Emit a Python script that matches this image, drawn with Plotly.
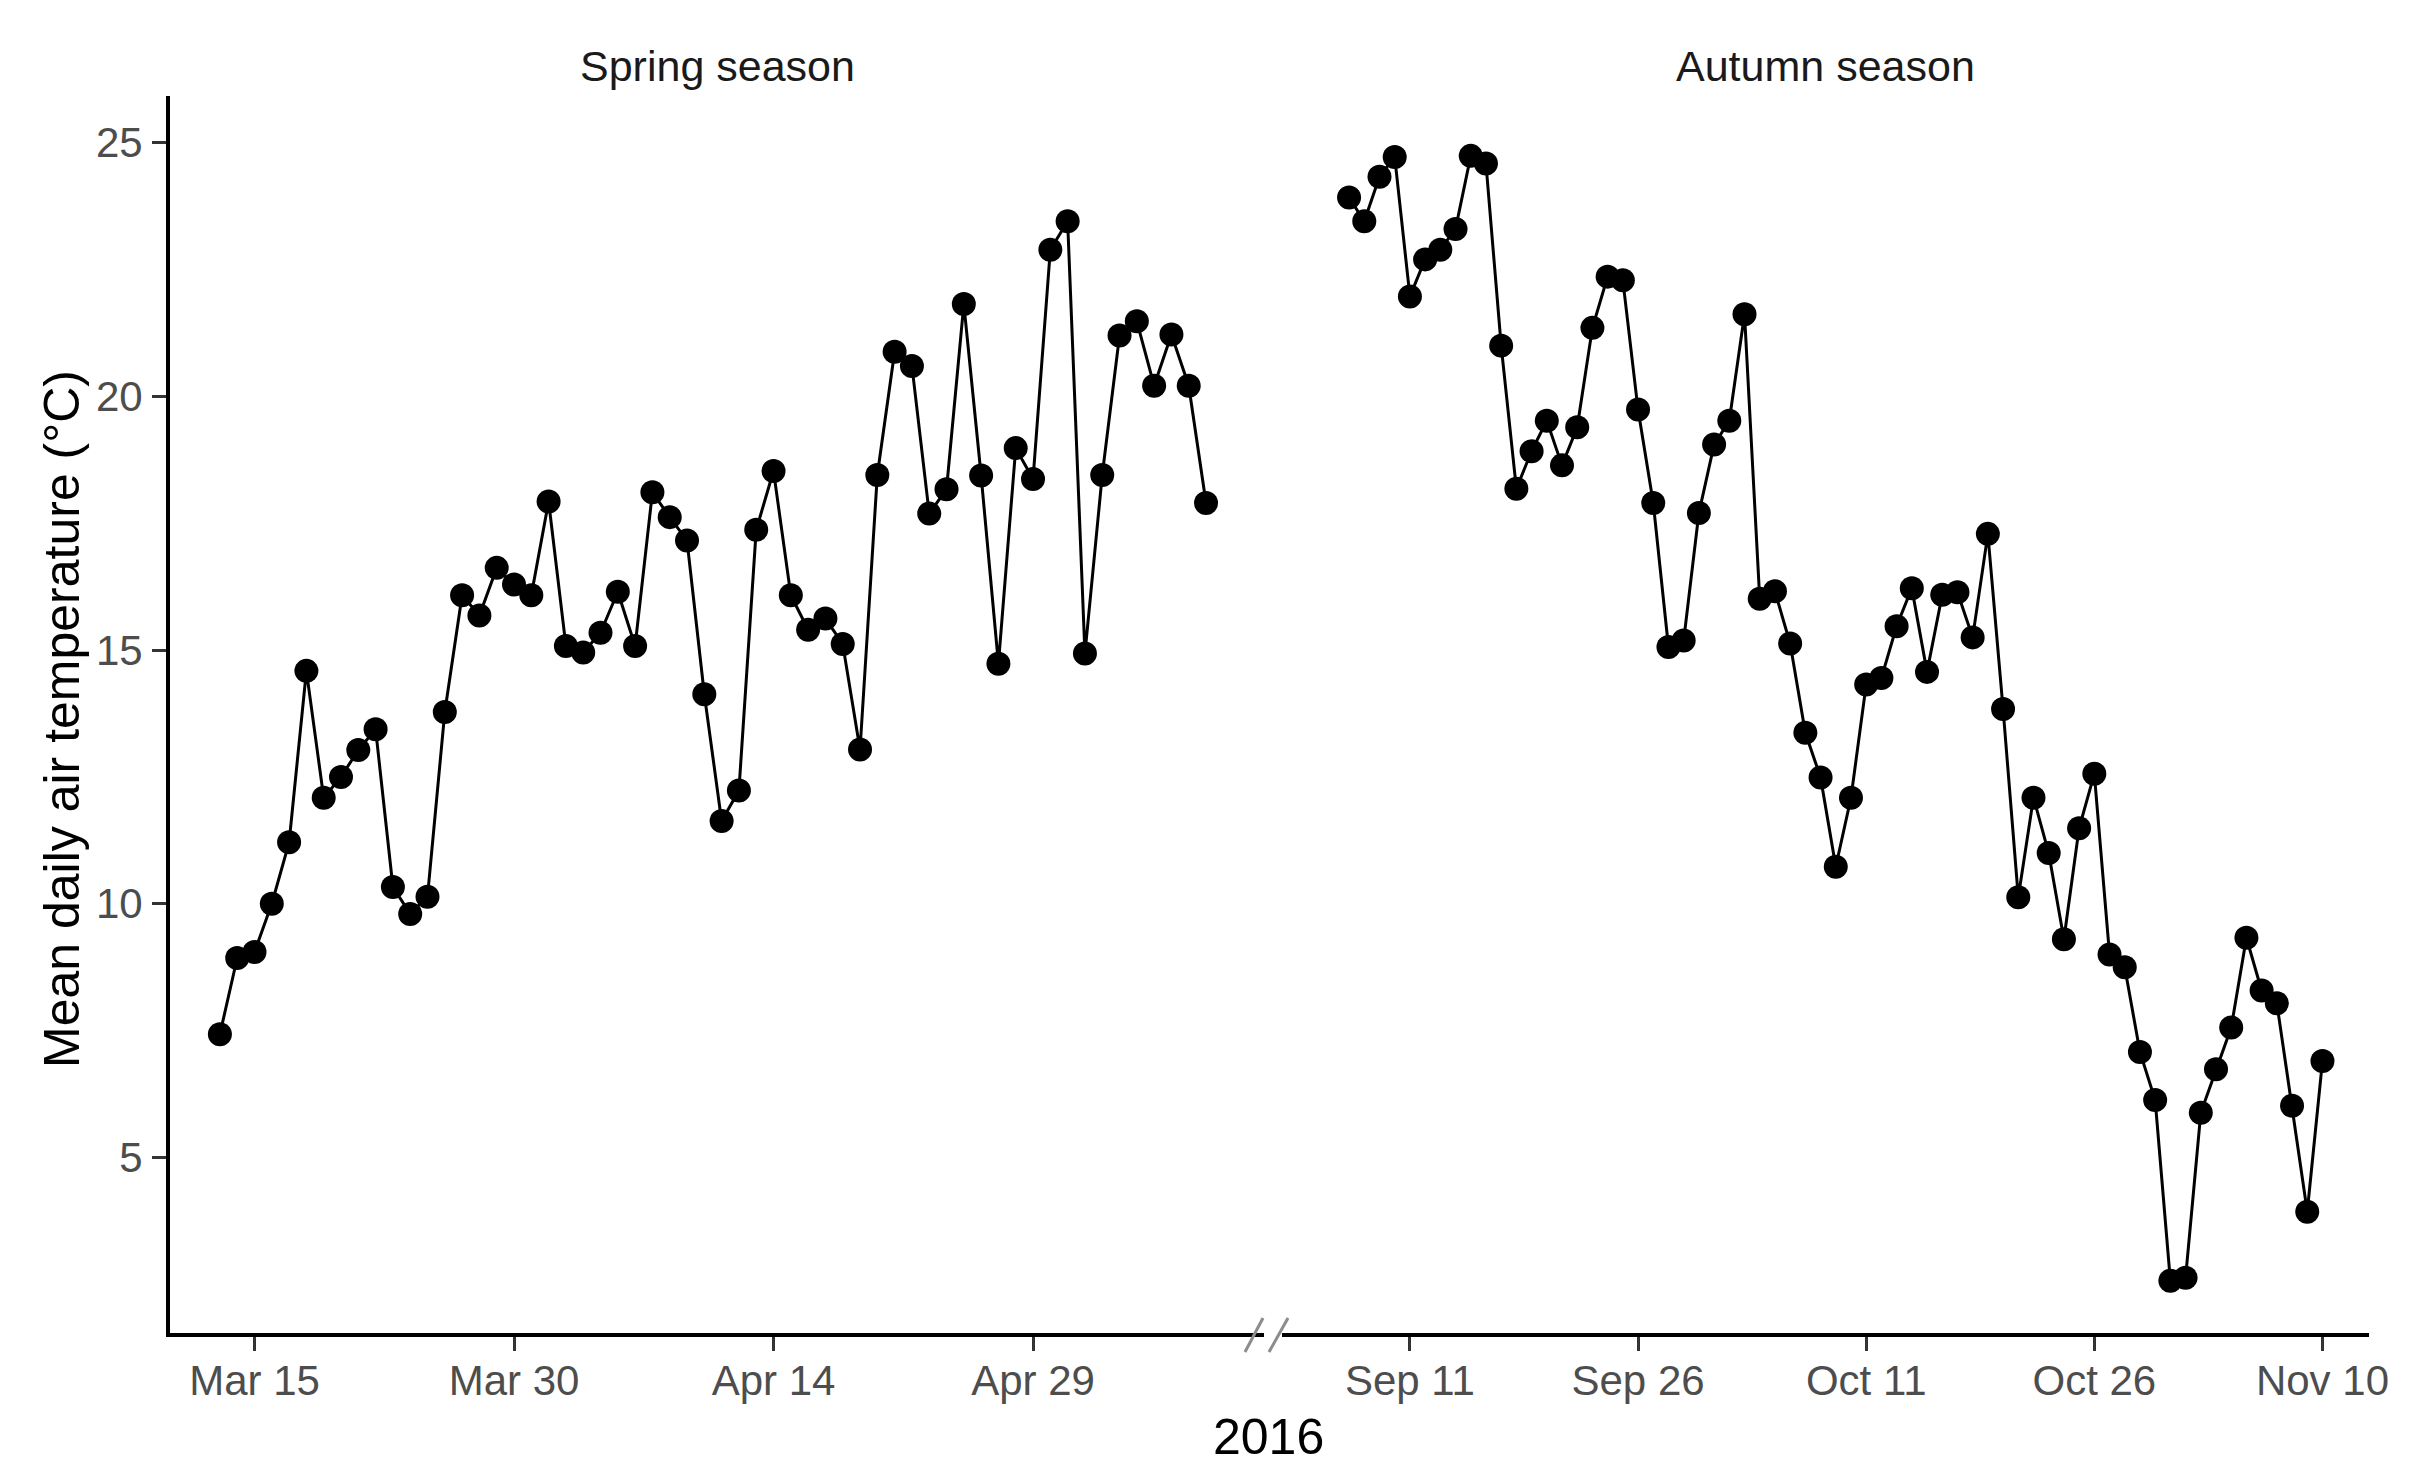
import pandas as pd
import plotly.graph_objects as go

# ---------------- data ----------------
spring_start, spring_end = "2016-03-13", "2016-05-09"
autumn_start, autumn_end = "2016-09-07", "2016-11-10"

spring_temp = [7.43, 8.93, 9.05, 10.0, 11.21, 14.59, 12.09, 12.50, 13.03, 13.44,
               10.33, 9.80, 10.14, 13.78, 16.08, 15.68, 16.62, 16.29, 16.08, 17.93,
               15.08, 14.95, 15.34, 16.15, 15.08, 18.11, 17.62, 17.16, 14.13, 11.63,
               12.23, 17.37, 18.53, 16.08, 15.40, 15.62, 15.12, 13.04, 18.45, 20.88,
               20.60, 17.69, 18.17, 21.82, 18.44, 14.73, 18.98, 18.37, 22.89, 23.45,
               14.93, 18.45, 21.20, 21.48, 20.21, 21.22, 20.21, 17.90]

autumn_temp = [23.92, 23.45, 24.33, 24.72, 21.97, 22.70, 22.89, 23.30, 24.74, 24.59,
               21.00, 18.18, 18.92, 19.52, 18.64, 19.39, 21.35, 22.36, 22.29, 19.74,
               17.90, 15.06, 15.19, 17.70, 19.05, 19.52, 21.62, 16.01, 16.16, 15.13,
               13.37, 12.49, 10.73, 12.09, 14.32, 14.45, 15.47, 16.22, 14.57, 16.09,
               16.14, 15.25, 17.29, 13.84, 10.13, 12.09, 11.00, 9.30, 11.49, 12.56,
               9.00, 8.75, 7.08, 6.13, 2.57, 2.63, 5.88, 6.74, 7.56, 9.33,
               8.29, 8.04, 6.02, 3.93, 6.90]

spring_ticks = ["2016-03-15", "2016-03-30", "2016-04-14", "2016-04-29"]
spring_ticklabels = ["Mar 15", "Mar 30", "Apr 14", "Apr 29"]
autumn_ticks = ["2016-09-11", "2016-09-26", "2016-10-11", "2016-10-26", "2016-11-10"]
autumn_ticklabels = ["Sep 11", "Sep 26", "Oct 11", "Oct 26", "Nov 10"]
y_ticks = [5, 10, 15, 20, 25]
panel_titles = ["Spring season", "Autumn season"]
x_title = "2016"
y_title = "Mean daily air temperature (°C)"

spring_dates = pd.date_range(spring_start, spring_end, freq="D")
autumn_dates = pd.date_range(autumn_start, autumn_end, freq="D")

# ---------------- layout geometry (pixels) ----------------
W, H = 2431, 1484
L, R, T, B = 170, 2369, 96, 1333
PW, PH = R - L, B - T
spring_dom = [0, (1264 - L) / PW]
autumn_dom = [(1282 - L) / PW, 1]

FONT = "Liberation Sans, Arial, sans-serif"

fig = go.Figure()
common = dict(mode="lines+markers", line=dict(color="black", width=3),
              marker=dict(color="black", size=24), showlegend=False)
fig.add_trace(go.Scatter(x=spring_dates, y=spring_temp, xaxis="x", yaxis="y", **common))
fig.add_trace(go.Scatter(x=autumn_dates, y=autumn_temp, xaxis="x2", yaxis="y", **common))

xcommon = dict(type="date", showgrid=False, zeroline=False, showline=True,
               linecolor="black", linewidth=4, ticks="outside", ticklen=14,
               tickwidth=3, tickcolor="#333333",
               tickfont=dict(family=FONT, size=42, color="#4D4D4D"),
               ticklabelstandoff=-6)

fig.update_layout(
    width=W, height=H,
    margin=dict(l=L, r=W - R, t=T, b=H - B),
    plot_bgcolor="white", paper_bgcolor="white",
    xaxis=dict(domain=spring_dom, anchor="y",
               range=["2016-03-10 02:47", "2016-05-12 08:25"],
               tickvals=spring_ticks, ticktext=spring_ticklabels, **xcommon),
    xaxis2=dict(domain=autumn_dom, anchor="y",
                range=["2016-09-02 14:10", "2016-11-13 01:26"],
                tickvals=autumn_ticks, ticktext=autumn_ticklabels, **xcommon),
    yaxis=dict(domain=[0, 1], anchor="x", range=[1.54, 25.92],
               tickvals=y_ticks, ticktext=[str(v) for v in y_ticks],
               showgrid=False, zeroline=False, showline=True,
               linecolor="black", linewidth=4, ticks="outside", ticklen=14,
               tickwidth=3, tickcolor="#333333",
               tickfont=dict(family=FONT, size=42, color="#4D4D4D"),
               ticklabelstandoff=1),
)

def px2paper(px, py):
    return (px - L) / PW, (B - py) / PH

annotations = []
for ref, title in zip(["x domain", "x2 domain"], panel_titles):
    annotations.append(dict(text=title, xref=ref, yref="paper", x=0.5,
                            y=px2paper(0, 66)[1], xanchor="center", yanchor="middle",
                            showarrow=False,
                            font=dict(family=FONT, size=43, color="#1A1A1A")))
ax, ay = px2paper(1268, 1437)
annotations.append(dict(text=x_title, xref="paper", yref="paper", x=ax, y=ay,
                        xanchor="center", yanchor="middle", showarrow=False,
                        font=dict(family=FONT, size=50, color="black")))
tx, ty = px2paper(62, 719)
annotations.append(dict(text=y_title, xref="paper", yref="paper", x=tx, y=ty,
                        xanchor="center", yanchor="middle", textangle=-90,
                        showarrow=False,
                        font=dict(family=FONT, size=50, color="black")))
fig.update_layout(annotations=annotations)

# axis break marks "//"
for (x0, y0, x1, y1) in [(1245, 1352, 1263, 1318), (1269, 1352, 1288, 1318)]:
    p0 = px2paper(x0, y0)
    p1 = px2paper(x1, y1)
    fig.add_shape(type="line", xref="paper", yref="paper",
                  x0=p0[0], y0=p0[1], x1=p1[0], y1=p1[1],
                  line=dict(color="#8C8C8C", width=3))

fig.write_html("out.html", config={"displayModeBar": False},
               post_script="document.body.style.margin='0';")
